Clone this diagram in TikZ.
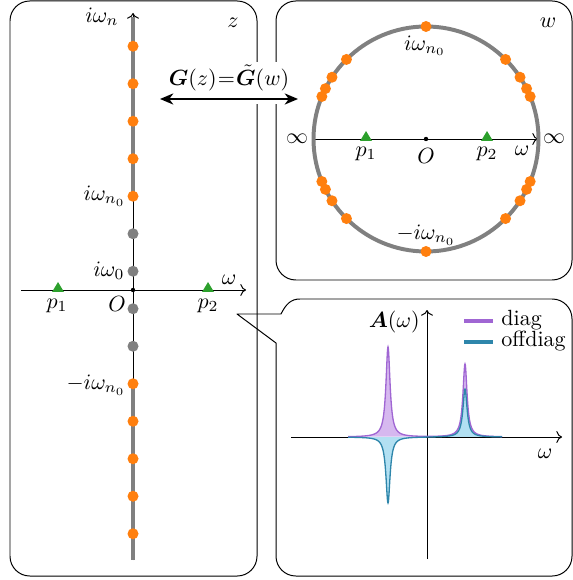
\documentclass[tikz,border=0pt]{standalone}
\usepackage{amsmath,bm}
\usetikzlibrary{arrows.meta,calc}
\definecolor{dotorange}{HTML}{FF7F0E}
\definecolor{pgreen}{HTML}{2CA02C}
\definecolor{axgray}{HTML}{808080}
\definecolor{diagc}{HTML}{A066D3}
\definecolor{diagf}{HTML}{D6B8EF}
\definecolor{offc}{HTML}{2E86AB}
\definecolor{offf}{HTML}{B2E0F2}
\begin{document}
\begin{tikzpicture}[x=0.4545pt,y=-0.4545pt,
  panel/.style={draw=black, line width=0.45pt, rounded corners=9pt},
  axisline/.style={->, line width=0.45pt},
  grayline/.style={axgray, line width=1.8pt},
  odot/.style={circle, fill=dotorange, inner sep=0pt, minimum size=5pt},
  gdot/.style={circle, fill=axgray, inner sep=0pt, minimum size=5pt},
  bdot/.style={circle, fill=black, inner sep=0pt, minimum size=2pt},
  lbl/.style={inner sep=0pt},
  legline/.style={line width=1.4pt}
]
\useasboundingbox (0,0) rectangle (573,580);

% ---------- panels ----------
\draw[panel] (10,1) rectangle (257,576);
\draw[panel] (276,1) rectangle (572,280);
\coordinate (tip) at (237,314);
\draw[line width=0.45pt, line join=round] (tip) -- (281,314) .. controls (286,304) and (291,299) .. (300,299)
  [rounded corners=9pt] -- (572,299) -- (572,576) -- (276,576) [sharp corners] -- (276,343) -- cycle;

% ---------- left panel: z plane ----------
\coordinate (lO) at (133,290);
\draw[axisline] (133,560) -- (133,13);
\draw[axisline] (21,290) -- (246,290);
\draw[grayline] (133,17) -- (133,196);
\draw[grayline] (133,384) -- (133,560);
\foreach \k in {2,...,6} {
  \node[odot] (zu\k) at (133,{290-37.5*(\k+0.5)}) {};
  \node[odot] (zd\k) at (133,{290+37.5*(\k+0.5)}) {};
}
\foreach \k in {0,1} {
  \node[gdot] (gu\k) at (133,{290-37.5*(\k+0.5)}) {};
  \node[gdot] (gd\k) at (133,{290+37.5*(\k+0.5)}) {};
}
\node[bdot] (zO) at (lO) {};
\fill[pgreen] (52,292) -- (64,292) -- (58,282) -- cycle;
\fill[pgreen] (202,292) -- (214,292) -- (208,282) -- cycle;
\node[lbl] (ziwn) at (102,17) {$i\omega_n$};
\node[lbl] (zz) at (233,23) {$z$};
\node[lbl, anchor=east] (ziwn0) at (126,196) {$i\omega_{n_0}$};
\node[lbl, anchor=east] (ziw0) at (125,271) {$i\omega_0$};
\node[lbl, anchor=east] (zmiwn0) at (126,385) {$-i\omega_{n_0}$};
\node[lbl] (zw) at (229,280) {$\omega$};
\node[lbl] (zOl) at (117,304) {$O$};
\node[lbl] (zp1) at (57,306) {$p_1$};
\node[lbl] (zp2) at (208,306) {$p_2$};

% ---------- mapping arrow ----------
\fill[white] (158,62) rectangle (302,104);
\node[lbl] (glabel) at (229,78) {$\bm{G}(z)\mkern1mu{=}\mkern1mu\tilde{\bm{G}}(w)$};
\coordinate (ga) at (160,99);
\coordinate (gb) at (298,99);
\draw[{Stealth[length=6pt,width=5pt,inset=1.8pt]}-{Stealth[length=6pt,width=5pt,inset=1.8pt]}, line width=1.1pt] (ga) -- (gb);

% ---------- right panel: w plane ----------
\coordinate (wO) at (426,139);
\draw[axisline] (313,139) -- (538,139);
\draw[grayline] (wO) circle[radius=51.13pt];
\foreach \a in {90,135,146.7,153.4,157.8,45,33.3,26.6,22.2,-90,-135,-146.7,-153.4,-157.8,-45,-33.3,-26.6,-22.2} {
  \node[odot] (w\a) at ({426+112.5*cos(\a)},{139-112.5*sin(\a)}) {};
}
\node[bdot] (wOd) at (wO) {};
\fill[pgreen] (360,141) -- (372,141) -- (366,131) -- cycle;
\fill[pgreen] (481,141) -- (493,141) -- (487,131) -- cycle;
\node[lbl] (ww) at (548,23) {$w$};
\node[lbl] (wtop) at (425,46) {$i\omega_{n_0}$};
\node[lbl] (wbot) at (426,235) {$-i\omega_{n_0}$};
\node[lbl] (winfl) at (297,139) {$\infty$};
\node[lbl] (winfr) at (554,139) {$\infty$};
\node[lbl] (wOl) at (426,156) {$O$};
\node[lbl] (wp1) at (366,154) {$p_1$};
\node[lbl] (wp2) at (487,154) {$p_2$};
\node[lbl] (womega) at (522,151) {$\omega$};

% ---------- spectral function ----------
\draw[axisline] (427,559) -- (427,310);
\draw[axisline] (291,437) -- (562,437);
\fill[diagf] plot[domain=348:502, samples=617] (\x,{437-90/(1+((\x-388)/2.5)^2)-73/(1+((\x-465)/2.5)^2)}) -- cycle;
\fill[offf] plot[domain=348:502, samples=617] (\x,{437+66/(1+((\x-388)/2.5)^2)-48/(1+((\x-465)/2.5)^2)}) -- cycle;
\draw[diagc, line width=0.6pt] plot[domain=348:502, samples=617] (\x,{437-90/(1+((\x-388)/2.5)^2)-73/(1+((\x-465)/2.5)^2)});
\draw[offc, line width=0.6pt] plot[domain=348:502, samples=617] (\x,{437+66/(1+((\x-388)/2.5)^2)-48/(1+((\x-465)/2.5)^2)});
\node[lbl, anchor=east] (Alab) at (420,322) {$\bm{A}(\omega)$};
\node[lbl] (pomega) at (545,454) {$\omega$};
\coordinate (l1a) at (464,321); \coordinate (l1b) at (493,321);
\coordinate (l2a) at (464,342); \coordinate (l2b) at (493,342);
\draw[legline, diagc] (l1a) -- (l1b);
\draw[legline, offc] (l2a) -- (l2b);
\node[lbl, anchor=west] (ldiag) at (501,320) {diag};
\node[lbl, anchor=west] (loff) at (501,341) {offdiag};
\end{tikzpicture}
\end{document}
